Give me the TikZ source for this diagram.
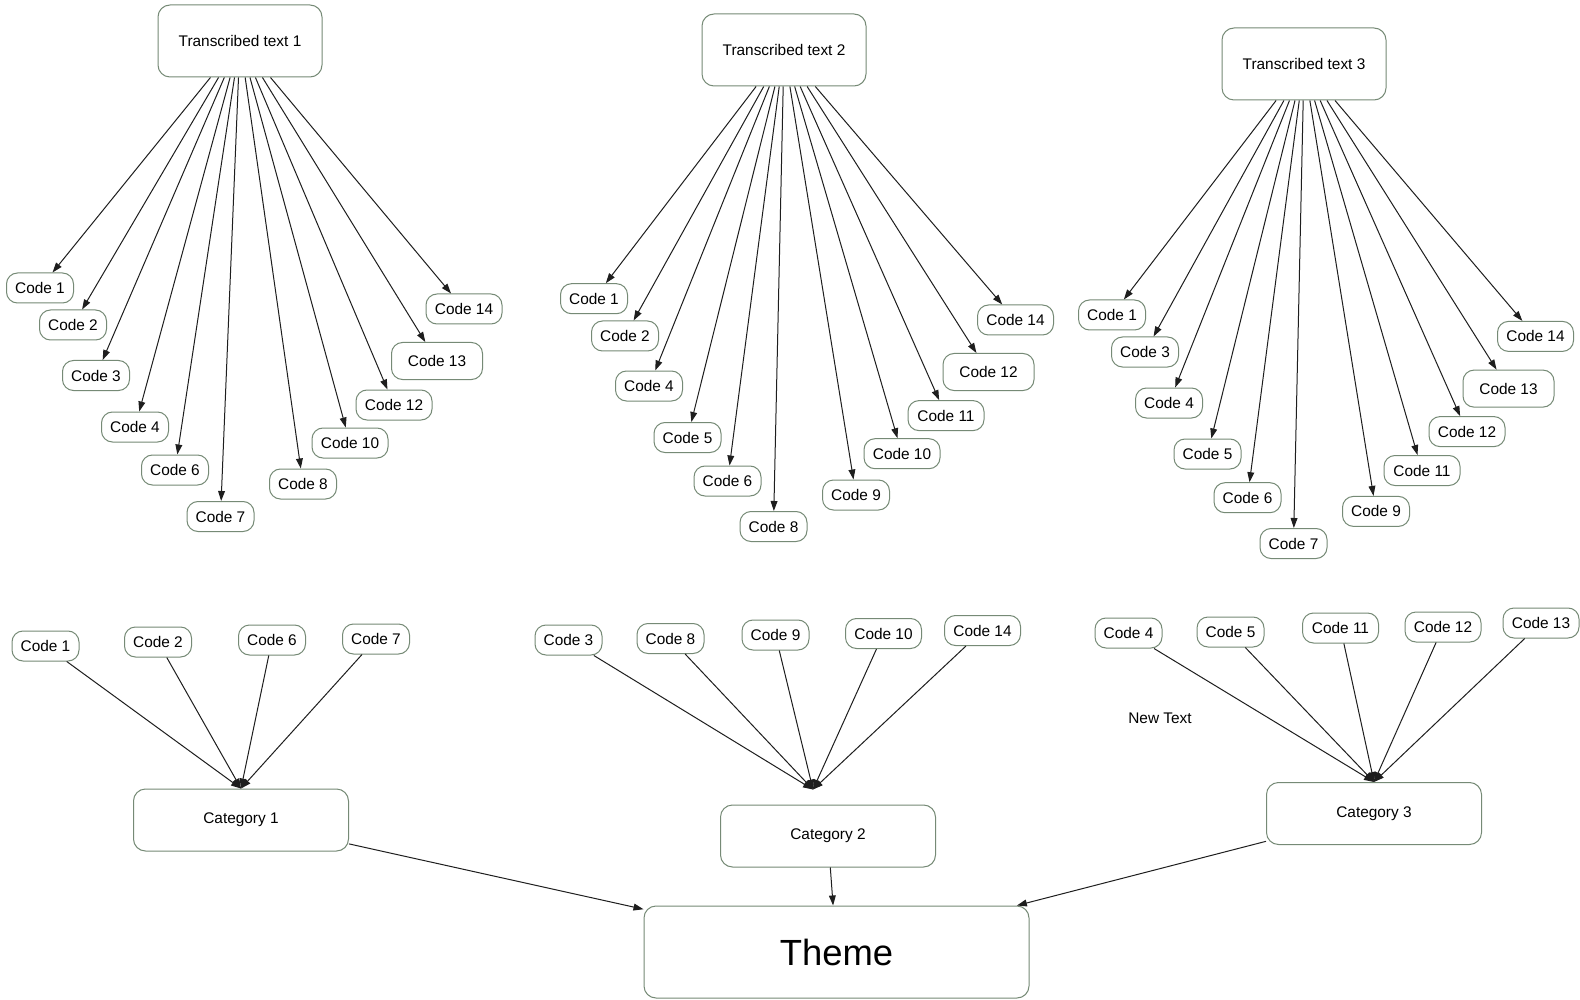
\documentclass[tikz,border=0pt]{standalone}
\usepackage{fontspec}
\setmainfont{Liberation Sans}
\usetikzlibrary{arrows.meta,calc}
\definecolor{boxline}{RGB}{118,138,118}
\definecolor{wire}{RGB}{30,30,30}
\begin{document}
\begin{tikzpicture}[x=0.5pt,y=-0.5pt,
  box/.style={draw=boxline, line width=0.5pt, fill=white, inner sep=0pt, font=\fontsize{7.7}{9}\selectfont},
  code/.style={box, rounded corners=5.5pt, minimum width=33.5pt, minimum height=15pt},
  codew/.style={code, minimum width=38pt},
  codeb/.style={code, minimum width=45.5pt, minimum height=18.5pt},
  source/.style={box, rounded corners=6pt, minimum width=82pt, minimum height=36pt},
  category/.style={box, rounded corners=6pt, minimum width=107.5pt, minimum height=31pt},
  theme/.style={box, rounded corners=6pt, minimum width=192.5pt, minimum height=46pt, font=\fontsize{18.2}{22}\selectfont},
  arr/.style={draw=wire, line width=0.5pt, -{Triangle[length=5pt,width=3.4pt]}},
]
\useasboundingbox (0,0) rectangle (1580,1000);
\fill[white] (0,0) rectangle (1580,1000);

% ---- first transcript and its codes
\node[source] (t1) at (240,41) {Transcribed text 1};
\node[code]  (a1)  at (40,288)    {Code 1};
\node[code]  (a2)  at (73,325)    {Code 2};
\node[code]  (a3)  at (96,375.5)  {Code 3};
\node[code]  (a4)  at (135,427)   {Code 4};
\node[code]  (a6)  at (175,470)   {Code 6};
\node[code]  (a7)  at (220.5,516.5) {Code 7};
\node[code]  (a8)  at (303,484)   {Code 8};
\node[codew] (a10) at (350,443)   {Code 10};
\node[codew] (a12) at (394,405)   {Code 12};
\node[codeb] (a13) at (437,361)   {Code 13};
\node[codew] (a14) at (464,309)   {Code 14};
\foreach \n in {a1,a2,a3,a4,a6,a7,a8,a10,a12,a13,a14}
  \draw[arr] (t1) -- (\n);

% ---- second transcript and its codes
\node[source] (t2) at (784,50) {Transcribed text 2};
\node[code]  (b1)  at (594,298.7)   {Code 1};
\node[code]  (b2)  at (625,336)     {Code 2};
\node[code]  (b4)  at (649,386)     {Code 4};
\node[code]  (b5)  at (687.5,437.5) {Code 5};
\node[code]  (b6)  at (727.5,481)   {Code 6};
\node[code]  (b8)  at (773.5,526.5) {Code 8};
\node[code]  (b9)  at (856,495)     {Code 9};
\node[codew] (b10) at (902,453.7)   {Code 10};
\node[codew] (b11) at (946,415.6)   {Code 11};
\node[codeb] (b12) at (988.5,372)   {Code 12};
\node[codew] (b14) at (1015.5,320)  {Code 14};
\foreach \n in {b1,b2,b4,b5,b6,b8,b9,b10,b11,b12,b14}
  \draw[arr] (t2) -- (\n);

% ---- third transcript and its codes
\node[source] (t3) at (1304,64) {Transcribed text 3};
\node[code]  (c1)  at (1112,315)     {Code 1};
\node[code]  (c3)  at (1145,352)     {Code 3};
\node[code]  (c4)  at (1169,403)     {Code 4};
\node[code]  (c5)  at (1207.5,454)   {Code 5};
\node[code]  (c6)  at (1247.5,497.7) {Code 6};
\node[code]  (c7)  at (1293.5,543.5) {Code 7};
\node[code]  (c9)  at (1376,511.4)   {Code 9};
\node[codew] (c11) at (1422,470.5)   {Code 11};
\node[codew] (c12) at (1467,431.6)   {Code 12};
\node[codeb] (c13) at (1508.5,388.6) {Code 13};
\node[codew] (c14) at (1535.5,336.4) {Code 14};
\foreach \n in {c1,c3,c4,c5,c6,c7,c9,c11,c12,c13,c14}
  \draw[arr] (t3) -- (\n);

% ---- categories
\node[category] (k1) at (241,820)    {Category 1};
\node[category] (k2) at (828,836)    {Category 2};
\node[category] (k3) at (1374,813.5) {Category 3};
\coordinate (k2in) at ($(k2.north)+(-15,-15)$);

\node[code]  (d1)  at (45.5,646)   {Code 1};
\node[code]  (d2)  at (158,642)    {Code 2};
\node[code]  (d6)  at (272,640)    {Code 6};
\node[code]  (d7)  at (376,639)    {Code 7};
\foreach \n in {d1,d2,d6,d7}
  \draw[arr] (\n) -- (k1.north);

\node[code]  (e3)  at (568.5,640)   {Code 3};
\node[code]  (e8)  at (670.5,638.5) {Code 8};
\node[code]  (e9)  at (775.5,635)   {Code 9};
\node[codew] (e10) at (883.5,633.5) {Code 10};
\node[codew] (e14) at (982.5,630.5) {Code 14};
\foreach \n in {e3,e8,e9,e10,e14}
  \draw[arr] (\n) -- (k2in);

\node[code]  (f4)  at (1128.5,633) {Code 4};
\node[code]  (f5)  at (1230.5,632) {Code 5};
\node[codew] (f11) at (1340.5,628) {Code 11};
\node[codew] (f12) at (1443,627)   {Code 12};
\node[codew] (f13) at (1541,623)   {Code 13};
\foreach \n in {f4,f5,f11,f12,f13}
  \draw[arr] (\n) -- (k3.north);

\node[font=\fontsize{7.7}{9}\selectfont] (nt) at (1160,718) {New Text};

% ---- theme
\node[theme] (th) at (836.5,952) {Theme};
\foreach \n in {k1,k2,k3}
  \draw[arr] (\n) -- (th);
\end{tikzpicture}
\end{document}
